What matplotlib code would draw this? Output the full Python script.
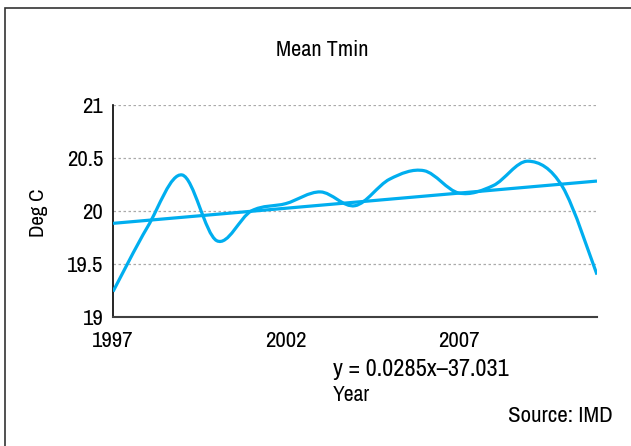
import matplotlib
matplotlib.use('Agg')
from matplotlib import pyplot as plt
from matplotlib.path import Path
from matplotlib.patches import PathPatch, Rectangle
import numpy as np

plt.rcParams['font.family'] = ['Archivo Narrow', 'DejaVu Sans']

years = [1997, 1998, 1999, 2000, 2001, 2002, 2003, 2004,
         2005, 2006, 2007, 2008, 2009, 2010, 2011]
tmin = [19.24, 19.85, 20.34, 19.72, 20.00, 20.07, 20.18, 20.05,
        20.30, 20.38, 20.17, 20.24, 20.47, 20.23, 19.40]
slope = 0.0285
intercept = -37.031
xtick_years = [1997, 2002, 2007]
ytick_vals = [19, 19.5, 20, 20.5, 21]

blue = '#00AEEF'

fig = plt.figure(figsize=(6.31, 4.46), dpi=100)
ax = fig.add_axes([113/631, 1-317/446, (597-113)/631, (317-105)/446])

# smooth line through the yearly means (catmull-rom as cubic bezier)
pts = np.column_stack([years, tmin]).astype(float)
ext = np.vstack([pts[0], pts, pts[-1]])
verts = [tuple(pts[0])]
codes = [Path.MOVETO]
for i in range(1, len(ext) - 2):
    p0, p1, p2, p3 = ext[i-1], ext[i], ext[i+1], ext[i+2]
    c1 = p1 + (p2 - p0) / 6
    c2 = p2 - (p3 - p1) / 6
    verts += [tuple(c1), tuple(c2), tuple(p2)]
    codes += [Path.CURVE4] * 3
ax.add_patch(PathPatch(Path(verts, codes), facecolor='none', edgecolor=blue,
                       lw=2.3, capstyle='butt', zorder=3))

# linear trend
tx = np.array([years[0], years[-1]])
ax.plot(tx, slope * tx + intercept, color=blue, lw=2.3, solid_capstyle='butt', zorder=3)

ax.set_xlim(years[0], years[-1])
ax.set_ylim(19, 21)
ax.set_yticks(ytick_vals)
ax.set_yticklabels(['19', '19.5', '20', '20.5', '21'])
ax.set_xticks(xtick_years)
ax.set_xticklabels([str(y) for y in xtick_years])
ax.tick_params(axis='both', length=0, labelsize=16.5, colors='black')
ax.tick_params(axis='y', pad=7)
ax.tick_params(axis='x', pad=10)

for v in ytick_vals[1:]:
    ax.axhline(v, color='#aaaaaa', lw=0.9, ls=(0, (2, 2)), zorder=1)

for side in ['top', 'right']:
    ax.spines[side].set_visible(False)
ax.spines['left'].set_color('black')
ax.spines['left'].set_linewidth(1.2)
ax.spines['bottom'].set_color('#404040')
ax.spines['bottom'].set_linewidth(1.5)

fig.text(322/631, 1-50/446, 'Mean Tmin', ha='center', va='center', fontsize=16)
fig.text(38/631, 1-213/446, 'Deg C', ha='center', va='center', rotation=90, fontsize=15)
fig.text(333/631, 1-369/446, 'y = 0.0285x\u201337.031', ha='left', va='center', fontsize=17.5)
fig.text(333/631, 1-395/446, 'Year', ha='left', va='center', fontsize=15.5)
fig.text(613/631, 1-416/446, 'Source: IMD', ha='right', va='center', fontsize=16.5)

# outer frame
fig.patches.append(Rectangle((5/631, -0.1), 1.2, 1 - 8/446 + 0.1, transform=fig.transFigure,
                             fill=False, edgecolor='#333333', lw=1.2))

fig.savefig('out.png', dpi=100)
